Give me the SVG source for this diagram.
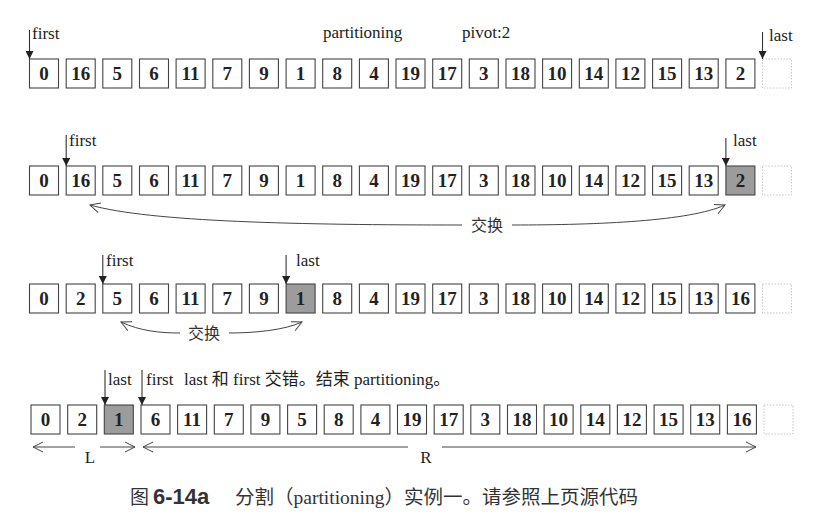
<svg xmlns="http://www.w3.org/2000/svg" width="820" height="527" viewBox="0 0 820 527">
<style>
.b{fill:#fff;stroke:#444;stroke-width:1.1}
.s{fill:#9c9c9c;stroke:#444;stroke-width:1.1}
.e{fill:#fff;stroke:#c8c8c8;stroke-width:1;stroke-dasharray:1.5 1.5}
.n{font-family:"Liberation Serif",serif;font-weight:bold;font-size:19px;fill:#222;text-anchor:middle}
.t{font-family:"Liberation Serif","Noto Sans CJK SC",serif;font-size:17px;fill:#222}
.c{font-family:"Noto Sans CJK SC",sans-serif;font-size:16px;fill:#333}
.p{stroke:#333;stroke-width:1.1;fill:none;marker-end:url(#tri)}
.sw{stroke:#444;stroke-width:1;fill:none}
</style>
<defs>
<marker id="tri" viewBox="0 0 10 10" refX="10" refY="5" markerWidth="9" markerHeight="8" markerUnits="userSpaceOnUse" orient="auto">
<path d="M0,0 L10,5 L0,10 Z" fill="#222"/>
</marker>
<marker id="open" viewBox="0 0 12 12" refX="11" refY="6" markerWidth="12" markerHeight="12" markerUnits="userSpaceOnUse" orient="auto-start-reverse">
<path d="M1,1 L11,6 L1,11" fill="none" stroke="#444" stroke-width="1"/>
</marker>
</defs>

<g id="row1">
<rect class="b" x="29.5" y="59" width="29" height="29"/><text class="n" x="44" y="80">0</text>
<rect class="b" x="66.2" y="59" width="29" height="29"/><text class="n" x="80.7" y="80">16</text>
<rect class="b" x="102.8" y="59" width="29" height="29"/><text class="n" x="117.3" y="80">5</text>
<rect class="b" x="139.5" y="59" width="29" height="29"/><text class="n" x="154" y="80">6</text>
<rect class="b" x="176.1" y="59" width="29" height="29"/><text class="n" x="190.6" y="80">11</text>
<rect class="b" x="212.8" y="59" width="29" height="29"/><text class="n" x="227.3" y="80">7</text>
<rect class="b" x="249.4" y="59" width="29" height="29"/><text class="n" x="263.9" y="80">9</text>
<rect class="b" x="286.1" y="59" width="29" height="29"/><text class="n" x="300.6" y="80">1</text>
<rect class="b" x="322.7" y="59" width="29" height="29"/><text class="n" x="337.2" y="80">8</text>
<rect class="b" x="359.4" y="59" width="29" height="29"/><text class="n" x="373.9" y="80">4</text>
<rect class="b" x="396" y="59" width="29" height="29"/><text class="n" x="410.5" y="80">19</text>
<rect class="b" x="432.7" y="59" width="29" height="29"/><text class="n" x="447.2" y="80">17</text>
<rect class="b" x="469.3" y="59" width="29" height="29"/><text class="n" x="483.8" y="80">3</text>
<rect class="b" x="506" y="59" width="29" height="29"/><text class="n" x="520.5" y="80">18</text>
<rect class="b" x="542.6" y="59" width="29" height="29"/><text class="n" x="557.1" y="80">10</text>
<rect class="b" x="579.3" y="59" width="29" height="29"/><text class="n" x="593.8" y="80">14</text>
<rect class="b" x="615.9" y="59" width="29" height="29"/><text class="n" x="630.4" y="80">12</text>
<rect class="b" x="652.6" y="59" width="29" height="29"/><text class="n" x="667.1" y="80">15</text>
<rect class="b" x="689.2" y="59" width="29" height="29"/><text class="n" x="703.7" y="80">13</text>
<rect class="b" x="725.9" y="59" width="29" height="29"/><text class="n" x="740.4" y="80">2</text>
<rect class="e" x="762.5" y="59" width="29" height="29"/>
</g>

<g id="row2">
<rect class="b" x="29.5" y="166" width="29" height="29"/><text class="n" x="44" y="187">0</text>
<rect class="b" x="66.2" y="166" width="29" height="29"/><text class="n" x="80.7" y="187">16</text>
<rect class="b" x="102.8" y="166" width="29" height="29"/><text class="n" x="117.3" y="187">5</text>
<rect class="b" x="139.5" y="166" width="29" height="29"/><text class="n" x="154" y="187">6</text>
<rect class="b" x="176.1" y="166" width="29" height="29"/><text class="n" x="190.6" y="187">11</text>
<rect class="b" x="212.8" y="166" width="29" height="29"/><text class="n" x="227.3" y="187">7</text>
<rect class="b" x="249.4" y="166" width="29" height="29"/><text class="n" x="263.9" y="187">9</text>
<rect class="b" x="286.1" y="166" width="29" height="29"/><text class="n" x="300.6" y="187">1</text>
<rect class="b" x="322.7" y="166" width="29" height="29"/><text class="n" x="337.2" y="187">8</text>
<rect class="b" x="359.4" y="166" width="29" height="29"/><text class="n" x="373.9" y="187">4</text>
<rect class="b" x="396" y="166" width="29" height="29"/><text class="n" x="410.5" y="187">19</text>
<rect class="b" x="432.7" y="166" width="29" height="29"/><text class="n" x="447.2" y="187">17</text>
<rect class="b" x="469.3" y="166" width="29" height="29"/><text class="n" x="483.8" y="187">3</text>
<rect class="b" x="506" y="166" width="29" height="29"/><text class="n" x="520.5" y="187">18</text>
<rect class="b" x="542.6" y="166" width="29" height="29"/><text class="n" x="557.1" y="187">10</text>
<rect class="b" x="579.3" y="166" width="29" height="29"/><text class="n" x="593.8" y="187">14</text>
<rect class="b" x="615.9" y="166" width="29" height="29"/><text class="n" x="630.4" y="187">12</text>
<rect class="b" x="652.6" y="166" width="29" height="29"/><text class="n" x="667.1" y="187">15</text>
<rect class="b" x="689.2" y="166" width="29" height="29"/><text class="n" x="703.7" y="187">13</text>
<rect class="s" x="725.9" y="166" width="29" height="29"/><text class="n" x="740.4" y="187">2</text>
<rect class="e" x="762.5" y="166" width="29" height="29"/>
</g>

<g id="row3">
<rect class="b" x="29.5" y="284" width="29" height="29"/><text class="n" x="44" y="305">0</text>
<rect class="b" x="66.2" y="284" width="29" height="29"/><text class="n" x="80.7" y="305">2</text>
<rect class="b" x="102.8" y="284" width="29" height="29"/><text class="n" x="117.3" y="305">5</text>
<rect class="b" x="139.5" y="284" width="29" height="29"/><text class="n" x="154" y="305">6</text>
<rect class="b" x="176.1" y="284" width="29" height="29"/><text class="n" x="190.6" y="305">11</text>
<rect class="b" x="212.8" y="284" width="29" height="29"/><text class="n" x="227.3" y="305">7</text>
<rect class="b" x="249.4" y="284" width="29" height="29"/><text class="n" x="263.9" y="305">9</text>
<rect class="s" x="286.1" y="284" width="29" height="29"/><text class="n" x="300.6" y="305">1</text>
<rect class="b" x="322.7" y="284" width="29" height="29"/><text class="n" x="337.2" y="305">8</text>
<rect class="b" x="359.4" y="284" width="29" height="29"/><text class="n" x="373.9" y="305">4</text>
<rect class="b" x="396" y="284" width="29" height="29"/><text class="n" x="410.5" y="305">19</text>
<rect class="b" x="432.7" y="284" width="29" height="29"/><text class="n" x="447.2" y="305">17</text>
<rect class="b" x="469.3" y="284" width="29" height="29"/><text class="n" x="483.8" y="305">3</text>
<rect class="b" x="506" y="284" width="29" height="29"/><text class="n" x="520.5" y="305">18</text>
<rect class="b" x="542.6" y="284" width="29" height="29"/><text class="n" x="557.1" y="305">10</text>
<rect class="b" x="579.3" y="284" width="29" height="29"/><text class="n" x="593.8" y="305">14</text>
<rect class="b" x="615.9" y="284" width="29" height="29"/><text class="n" x="630.4" y="305">12</text>
<rect class="b" x="652.6" y="284" width="29" height="29"/><text class="n" x="667.1" y="305">15</text>
<rect class="b" x="689.2" y="284" width="29" height="29"/><text class="n" x="703.7" y="305">13</text>
<rect class="b" x="725.9" y="284" width="29" height="29"/><text class="n" x="740.4" y="305">16</text>
<rect class="e" x="762.5" y="284" width="29" height="29"/>
</g>

<g id="row4">
<rect class="b" x="31" y="405" width="29" height="29"/><text class="n" x="45.5" y="426">0</text>
<rect class="b" x="67.7" y="405" width="29" height="29"/><text class="n" x="82.2" y="426">2</text>
<rect class="s" x="104.3" y="405" width="29" height="29"/><text class="n" x="118.8" y="426">1</text>
<rect class="b" x="141" y="405" width="29" height="29"/><text class="n" x="155.5" y="426">6</text>
<rect class="b" x="177.6" y="405" width="29" height="29"/><text class="n" x="192.1" y="426">11</text>
<rect class="b" x="214.3" y="405" width="29" height="29"/><text class="n" x="228.8" y="426">7</text>
<rect class="b" x="250.9" y="405" width="29" height="29"/><text class="n" x="265.4" y="426">9</text>
<rect class="b" x="287.6" y="405" width="29" height="29"/><text class="n" x="302.1" y="426">5</text>
<rect class="b" x="324.2" y="405" width="29" height="29"/><text class="n" x="338.7" y="426">8</text>
<rect class="b" x="360.9" y="405" width="29" height="29"/><text class="n" x="375.4" y="426">4</text>
<rect class="b" x="397.5" y="405" width="29" height="29"/><text class="n" x="412" y="426">19</text>
<rect class="b" x="434.2" y="405" width="29" height="29"/><text class="n" x="448.7" y="426">17</text>
<rect class="b" x="470.8" y="405" width="29" height="29"/><text class="n" x="485.3" y="426">3</text>
<rect class="b" x="507.5" y="405" width="29" height="29"/><text class="n" x="522" y="426">18</text>
<rect class="b" x="544.1" y="405" width="29" height="29"/><text class="n" x="558.6" y="426">10</text>
<rect class="b" x="580.8" y="405" width="29" height="29"/><text class="n" x="595.3" y="426">14</text>
<rect class="b" x="617.4" y="405" width="29" height="29"/><text class="n" x="631.9" y="426">12</text>
<rect class="b" x="654.1" y="405" width="29" height="29"/><text class="n" x="668.6" y="426">15</text>
<rect class="b" x="690.7" y="405" width="29" height="29"/><text class="n" x="705.2" y="426">13</text>
<rect class="b" x="727.4" y="405" width="29" height="29"/><text class="n" x="741.9" y="426">16</text>
<rect class="e" x="764" y="405" width="29" height="29"/>
</g>

<g id="connectors">
<line class="p" x1="29.5" y1="30" x2="29.5" y2="59"/>
<line class="p" x1="762.5" y1="32" x2="762.5" y2="59"/>
<line class="p" x1="66.2" y1="135" x2="66.2" y2="166"/>
<line class="p" x1="725.9" y1="138" x2="725.9" y2="166"/>
<line class="p" x1="102.8" y1="255" x2="102.8" y2="284"/>
<line class="p" x1="286.1" y1="255" x2="286.1" y2="284"/>
<line class="p" x1="105" y1="370" x2="105" y2="405"/>
<line class="p" x1="142" y1="370" x2="142" y2="405"/>
<path class="sw" d="M90,205 C150,222 300,225 462,225" marker-start="url(#open)"/>
<path class="sw" d="M512,225 C600,225 690,221 725,205" marker-end="url(#open)"/>
<path class="sw" d="M121,322 C140,331 160,333 180,333" marker-start="url(#open)"/>
<path class="sw" d="M229,333 C255,333 285,330 302,322" marker-end="url(#open)"/>
<line class="sw" x1="33" y1="447" x2="75" y2="447" marker-start="url(#open)"/>
<line class="sw" x1="100" y1="447" x2="135" y2="447" marker-end="url(#open)"/>
<line class="sw" x1="143" y1="447" x2="408" y2="447" marker-start="url(#open)"/>
<line class="sw" x1="442" y1="447" x2="756" y2="447" marker-end="url(#open)"/>
</g>

<g id="labels">
<text class="t" x="32" y="39">first</text>
<text class="t" x="323" y="38">partitioning</text>
<text class="t" x="462" y="38">pivot:2</text>
<text class="t" x="769" y="41">last</text>
<text class="t" x="69" y="146">first</text>
<text class="t" x="733" y="146">last</text>
<text class="c" x="487" y="231" text-anchor="middle">交换</text>
<text class="t" x="106" y="266">first</text>
<text class="t" x="296" y="266">last</text>
<text class="c" x="204" y="339" text-anchor="middle">交换</text>
<text class="t" x="108" y="385">last</text>
<text class="t" x="146" y="385">first</text>
<text class="t" x="184" y="385">last 和 first 交错。结束 partitioning。</text>
<text class="t" x="90" y="463" text-anchor="middle">L</text>
<text class="t" x="426" y="463" text-anchor="middle">R</text>
</g>

<g id="caption">
<text x="130" y="504" style="font-family:'Noto Sans CJK SC',sans-serif;font-size:19px;fill:#333">图</text>
<text x="153" y="504" style="font-family:'Liberation Sans',sans-serif;font-weight:bold;font-size:22px;fill:#333">6-14a</text>
<text x="235" y="504" style="font-family:'Liberation Serif','Noto Sans CJK SC',serif;font-size:19.5px;fill:#333">分割（partitioning）实例一。请参照上页源代码</text>
</g>
</svg>
